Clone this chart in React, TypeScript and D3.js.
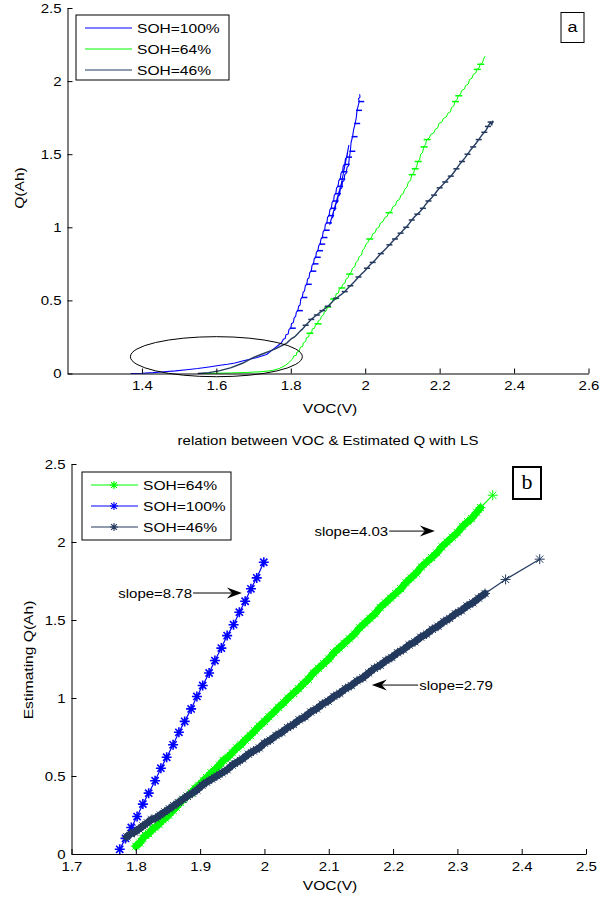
import React, { useRef, useEffect } from 'react';
import * as d3 from 'd3';

type Pt = [number, number]; // [VOC (V), Q (Ah)]

// ---- panel a: measured Q vs VOC --------------------------------------------
const topVocTicks = [1.4, 1.6, 1.8, 2, 2.2, 2.4, 2.6];
const qTicks = [0, 0.5, 1, 1.5, 2, 2.5];

const topSoh100: Pt[] = [
  [1.37, 0], [1.40, 0.002], [1.43, 0.006], [1.46, 0.012], [1.49, 0.018], [1.52, 0.026],
  [1.55, 0.034], [1.58, 0.045], [1.61, 0.056], [1.63, 0.063], [1.65, 0.072], [1.67, 0.085],
  [1.69, 0.097], [1.71, 0.11], [1.72, 0.118], [1.735, 0.13], [1.745, 0.15], [1.755, 0.17],
  [1.765, 0.19], [1.775, 0.21], [1.78, 0.235], [1.785, 0.24], [1.787, 0.265], [1.793, 0.27],
  [1.795, 0.30], [1.80, 0.31], [1.802, 0.34], [1.807, 0.35], [1.809, 0.38], [1.813, 0.39],
  [1.815, 0.42], [1.819, 0.43], [1.821, 0.46], [1.825, 0.47], [1.827, 0.51], [1.831, 0.52],
  [1.833, 0.555], [1.837, 0.565], [1.839, 0.60], [1.843, 0.61], [1.845, 0.645], [1.849, 0.655],
  [1.851, 0.69], [1.855, 0.70], [1.857, 0.74], [1.861, 0.75], [1.863, 0.785], [1.867, 0.795],
  [1.869, 0.83], [1.873, 0.84], [1.875, 0.875], [1.879, 0.885], [1.881, 0.92], [1.885, 0.93],
  [1.887, 0.97], [1.891, 0.98], [1.893, 1.02], [1.897, 1.03], [1.899, 1.07], [1.903, 1.08],
  [1.905, 1.12], [1.909, 1.13], [1.911, 1.17], [1.915, 1.18], [1.917, 1.22], [1.921, 1.23],
  [1.923, 1.27], [1.927, 1.28], [1.929, 1.32], [1.933, 1.33], [1.935, 1.37], [1.939, 1.38],
  [1.941, 1.42], [1.945, 1.43], [1.947, 1.47], [1.951, 1.48], [1.953, 1.52], [1.956, 1.56],
  [1.936, 1.30], [1.905, 1.02], [1.909, 1.06], [1.913, 1.07], [1.915, 1.11], [1.919, 1.12],
  [1.921, 1.16], [1.925, 1.17], [1.927, 1.21], [1.931, 1.22], [1.933, 1.26], [1.937, 1.27],
  [1.939, 1.31], [1.943, 1.32], [1.945, 1.36], [1.949, 1.37], [1.951, 1.41], [1.955, 1.42],
  [1.957, 1.47], [1.96, 1.52], [1.962, 1.58], [1.966, 1.62], [1.969, 1.67], [1.973, 1.71],
  [1.976, 1.75], [1.978, 1.80], [1.981, 1.83], [1.984, 1.86], [1.982, 1.88], [1.986, 1.89],
  [1.985, 1.91],
];
const topSoh64: Pt[] = [
  [1.56, 0], [1.60, 0.002], [1.64, 0.004], [1.68, 0.007], [1.72, 0.012], [1.75, 0.02],
  [1.77, 0.035], [1.785, 0.055], [1.795, 0.075], [1.805, 0.10], [1.808, 0.12], [1.815, 0.125],
  [1.816, 0.145], [1.822, 0.15], [1.826, 0.18], [1.832, 0.185], [1.834, 0.21], [1.84, 0.22],
  [1.842, 0.245], [1.848, 0.25], [1.85, 0.275], [1.856, 0.28], [1.858, 0.305], [1.864, 0.31],
  [1.866, 0.33], [1.872, 0.34], [1.874, 0.36], [1.88, 0.37], [1.882, 0.39], [1.888, 0.40],
  [1.89, 0.42], [1.896, 0.43], [1.898, 0.455], [1.904, 0.46], [1.906, 0.48], [1.912, 0.49],
  [1.914, 0.51], [1.92, 0.52], [1.922, 0.545], [1.928, 0.55], [1.93, 0.575], [1.936, 0.585],
  [1.94, 0.61], [1.946, 0.62], [1.948, 0.645], [1.954, 0.655], [1.957, 0.68], [1.962, 0.69],
  [1.966, 0.72], [1.972, 0.73], [1.975, 0.76], [1.98, 0.77], [1.984, 0.80], [1.99, 0.81],
  [1.993, 0.845], [1.998, 0.855], [2.002, 0.885], [2.007, 0.895], [2.011, 0.92], [2.017, 0.93],
  [2.02, 0.955], [2.027, 0.965], [2.03, 0.99], [2.037, 1.0], [2.041, 1.03], [2.048, 1.04],
  [2.052, 1.065], [2.059, 1.075], [2.063, 1.10], [2.07, 1.11], [2.074, 1.14], [2.081, 1.15],
  [2.085, 1.18], [2.092, 1.19], [2.096, 1.22], [2.102, 1.23], [2.106, 1.26], [2.112, 1.275],
  [2.116, 1.31], [2.122, 1.32], [2.125, 1.36], [2.13, 1.37], [2.133, 1.40], [2.138, 1.41],
  [2.141, 1.45], [2.146, 1.46], [2.149, 1.50], [2.154, 1.51], [2.157, 1.55], [2.162, 1.565],
  [2.165, 1.60], [2.172, 1.61], [2.176, 1.635], [2.184, 1.645], [2.188, 1.67], [2.195, 1.68],
  [2.198, 1.71], [2.206, 1.72], [2.21, 1.745], [2.218, 1.755], [2.222, 1.78], [2.229, 1.79],
  [2.232, 1.82], [2.238, 1.83], [2.241, 1.86], [2.247, 1.875], [2.25, 1.90], [2.256, 1.91],
  [2.259, 1.935], [2.266, 1.945], [2.27, 1.97], [2.277, 1.98], [2.28, 2.01], [2.287, 2.02],
  [2.29, 2.045], [2.297, 2.055], [2.3, 2.08], [2.306, 2.09], [2.309, 2.115], [2.315, 2.125],
  [2.318, 2.15], [2.322, 2.17],
];
const topSoh46: Pt[] = [
  [1.55, 0], [1.58, 0.006], [1.61, 0.02], [1.64, 0.04], [1.67, 0.07], [1.70, 0.11],
  [1.72, 0.13], [1.74, 0.15], [1.76, 0.17], [1.78, 0.195], [1.79, 0.21], [1.80, 0.235],
  [1.81, 0.25], [1.818, 0.27], [1.825, 0.29], [1.832, 0.305], [1.84, 0.33], [1.848, 0.35],
  [1.855, 0.37], [1.862, 0.385], [1.87, 0.40], [1.877, 0.415], [1.885, 0.43], [1.892, 0.445],
  [1.90, 0.46], [1.908, 0.48], [1.915, 0.50], [1.922, 0.515], [1.93, 0.53], [1.938, 0.545],
  [1.945, 0.56], [1.952, 0.58], [1.96, 0.60], [1.968, 0.62], [1.975, 0.64], [1.982, 0.66],
  [1.99, 0.68], [1.998, 0.70], [2.005, 0.72], [2.012, 0.74], [2.02, 0.76], [2.028, 0.78],
  [2.035, 0.80], [2.042, 0.82], [2.05, 0.84], [2.058, 0.86], [2.065, 0.88], [2.072, 0.90],
  [2.08, 0.92], [2.088, 0.94], [2.095, 0.96], [2.102, 0.98], [2.11, 1.00], [2.118, 1.025],
  [2.125, 1.05], [2.132, 1.07], [2.14, 1.09], [2.148, 1.11], [2.155, 1.13], [2.162, 1.155],
  [2.17, 1.18], [2.178, 1.20], [2.185, 1.22], [2.192, 1.245], [2.20, 1.27], [2.208, 1.29],
  [2.215, 1.31], [2.222, 1.33], [2.23, 1.35], [2.238, 1.375], [2.245, 1.40], [2.252, 1.425],
  [2.26, 1.45], [2.268, 1.475], [2.275, 1.50], [2.282, 1.525], [2.29, 1.55], [2.298, 1.575],
  [2.305, 1.60], [2.312, 1.625], [2.32, 1.65], [2.326, 1.67], [2.33, 1.69], [2.337, 1.72],
  [2.34, 1.70], [2.343, 1.73],
];
// short horizontal noise spikes seen along each trace
const spikes100: Pt[] = [
  [1.80, 0.31], [1.819, 0.43], [1.831, 0.52], [1.843, 0.61], [1.855, 0.70], [1.861, 0.75],
  [1.867, 0.795], [1.873, 0.84], [1.879, 0.885], [1.885, 0.93], [1.891, 0.98], [1.897, 1.03],
  [1.903, 1.08], [1.909, 1.13], [1.915, 1.18], [1.921, 1.23], [1.927, 1.28], [1.933, 1.33],
  [1.939, 1.38], [1.945, 1.43], [1.951, 1.48], [1.96, 1.52], [1.966, 1.62], [1.973, 1.71],
  [1.978, 1.80], [1.984, 1.86],
];
const spikes64: Pt[] = [
  [1.85, 0.275], [1.872, 0.34], [1.898, 0.455], [1.914, 0.51], [1.936, 0.585], [1.957, 0.68],
  [2.011, 0.92], [2.063, 1.10], [2.125, 1.36], [2.133, 1.40], [2.141, 1.45], [2.157, 1.55],
  [2.165, 1.60], [2.241, 1.86], [2.25, 1.90], [2.30, 2.08], [2.309, 2.115],
];
const spikes46: Pt[] = [
  [1.84, 0.33], [1.855, 0.37], [1.87, 0.40], [1.885, 0.43], [1.90, 0.46], [1.922, 0.515],
  [1.945, 0.56], [1.96, 0.60], [1.982, 0.66], [2.005, 0.72], [2.02, 0.76], [2.042, 0.82],
  [2.065, 0.88], [2.08, 0.92], [2.095, 0.96], [2.11, 1.00], [2.125, 1.05], [2.14, 1.09],
  [2.155, 1.13], [2.17, 1.18], [2.185, 1.22], [2.20, 1.27], [2.215, 1.31], [2.23, 1.35],
  [2.245, 1.40], [2.26, 1.45], [2.275, 1.50], [2.29, 1.55], [2.305, 1.60], [2.32, 1.65],
  [2.33, 1.69], [2.337, 1.72],
];
// circled region: centre VOC, centre Q, half-width (V), half-height (Ah)
const ellipseA = [1.6, 0.115, 0.231, 0.137];

// ---- panel b: LS estimate ---------------------------------------------------
const botVocTicks = [1.7, 1.8, 1.9, 2, 2.1, 2.2, 2.3, 2.4, 2.5];

const estSoh64: Pt[] = [
  [1.800, 0.05], [1.806, 0.07], [1.811, 0.10], [1.815, 0.12], [1.820, 0.13], [1.826, 0.16],
  [1.830, 0.17], [1.836, 0.19], [1.842, 0.22], [1.846, 0.23], [1.851, 0.25], [1.858, 0.28],
  [1.863, 0.30], [1.869, 0.33], [1.874, 0.35], [1.880, 0.37], [1.886, 0.39], [1.892, 0.42],
  [1.898, 0.44], [1.905, 0.47], [1.910, 0.49], [1.917, 0.52], [1.923, 0.54], [1.930, 0.57],
  [1.936, 0.60], [1.943, 0.62], [1.950, 0.65], [1.957, 0.68], [1.963, 0.70], [1.970, 0.73],
  [1.978, 0.76], [1.985, 0.79], [1.992, 0.82], [2.000, 0.85], [2.007, 0.88], [2.015, 0.91],
  [2.022, 0.94], [2.030, 0.97], [2.037, 1.00], [2.045, 1.03], [2.053, 1.06], [2.060, 1.09],
  [2.068, 1.12], [2.076, 1.16], [2.084, 1.19], [2.092, 1.22], [2.100, 1.25], [2.108, 1.29],
  [2.116, 1.32], [2.124, 1.35], [2.132, 1.38], [2.140, 1.41], [2.148, 1.45], [2.156, 1.48],
  [2.164, 1.51], [2.172, 1.54], [2.180, 1.58], [2.188, 1.61], [2.196, 1.64], [2.204, 1.67],
  [2.212, 1.70], [2.220, 1.74], [2.228, 1.77], [2.236, 1.80], [2.244, 1.84], [2.252, 1.87],
  [2.260, 1.90], [2.268, 1.93], [2.276, 1.97], [2.284, 2.00], [2.292, 2.03], [2.300, 2.06],
  [2.308, 2.10], [2.316, 2.13], [2.322, 2.15], [2.330, 2.19], [2.336, 2.22],
];
const estSoh64Tail: Pt[] = [[2.355, 2.30]];
const estSoh100: Pt[] = [
  [1.775, 0.03], [1.784, 0.10], [1.793, 0.17], [1.802, 0.24], [1.811, 0.32], [1.820, 0.39],
  [1.830, 0.47], [1.839, 0.55], [1.848, 0.62], [1.858, 0.70], [1.867, 0.78], [1.876, 0.85],
  [1.886, 0.93], [1.895, 1.01], [1.904, 1.08], [1.914, 1.16], [1.923, 1.24], [1.933, 1.32],
  [1.942, 1.40], [1.952, 1.47], [1.961, 1.55], [1.970, 1.62], [1.979, 1.70], [1.988, 1.77],
  [1.999, 1.87],
];
const estSoh46: Pt[] = [
  [1.786, 0.11], [1.792, 0.13], [1.798, 0.14], [1.805, 0.16], [1.811, 0.18], [1.818, 0.20],
  [1.824, 0.22], [1.831, 0.23], [1.838, 0.25], [1.845, 0.27], [1.852, 0.29], [1.859, 0.31],
  [1.866, 0.33], [1.873, 0.35], [1.880, 0.37], [1.888, 0.39], [1.895, 0.41], [1.903, 0.44],
  [1.910, 0.46], [1.918, 0.48], [1.926, 0.50], [1.934, 0.52], [1.942, 0.54], [1.950, 0.57],
  [1.958, 0.59], [1.966, 0.61], [1.975, 0.64], [1.983, 0.66], [1.992, 0.68], [2.000, 0.71],
  [2.009, 0.73], [2.018, 0.76], [2.027, 0.78], [2.036, 0.81], [2.045, 0.83], [2.054, 0.86],
  [2.063, 0.88], [2.072, 0.91], [2.081, 0.93], [2.090, 0.96], [2.099, 0.98], [2.108, 1.01],
  [2.117, 1.03], [2.126, 1.06], [2.135, 1.08], [2.144, 1.11], [2.153, 1.13], [2.162, 1.16],
  [2.171, 1.19], [2.180, 1.21], [2.189, 1.24], [2.198, 1.26], [2.207, 1.29], [2.216, 1.31],
  [2.225, 1.34], [2.234, 1.36], [2.243, 1.39], [2.252, 1.41], [2.261, 1.44], [2.270, 1.46],
  [2.279, 1.49], [2.288, 1.51], [2.297, 1.54], [2.306, 1.56], [2.315, 1.59], [2.324, 1.61],
  [2.333, 1.64], [2.343, 1.67],
];
const estSoh46Tail: Pt[] = [[2.375, 1.76], [2.428, 1.89]];
// slope call-outs: label, VOC at text side, VOC at arrow tip, Q level
const slopeNotes: { label: string; textV: number; tipV: number; q: number }[] = [
  { label: 'slope=8.78', textV: 1.889, tipV: 1.965, q: 1.673 },
  { label: 'slope=4.03', textV: 2.194, tipV: 2.265, q: 2.07 },
  { label: 'slope=2.79', textV: 2.239, tipV: 2.167, q: 1.083 },
];

const BLUE = '#0000ff';
const GREEN = '#00ff00';
const NAVY = '#233a5e';
const FONT = '"Liberation Sans", Arial, Helvetica, sans-serif';
const SX = 1.2; // the original figure is stretched sideways

type G = d3.Selection<SVGGElement, unknown, null, undefined>;

const starPath = (r: number) => {
  const d = r * 0.72;
  return `M${-r},0H${r}M0,${-r}V${r}M${-d},${-d}L${d},${d}M${-d},${d}L${d},${-d}`;
};

const label = (g: G, x: number, y: number, s: string, size = 12.5, anchor = 'start', rot = 0) =>
  g.append('text')
    .attr('transform', `translate(${x},${y}) rotate(${rot}) scale(${SX},1)`)
    .attr('text-anchor', anchor).attr('font-size', size).attr('font-family', FONT)
    .attr('fill', '#000').text(s);

function axes(g: G, x: d3.ScaleLinear<number, number>, y: d3.ScaleLinear<number, number>,
  xTicks: number[], xPad: number) {
  const fmt = d3.format('~g');
  const bx = g.append('g').attr('transform', `translate(0,${y.range()[0]})`)
    .call(d3.axisBottom(x).tickValues(xTicks).tickFormat(d => fmt(d as number))
      .tickSizeInner(-5).tickSizeOuter(0).tickPadding(xPad));
  const ly = g.append('g').attr('transform', `translate(${x.range()[0]},0)`)
    .call(d3.axisLeft(y).tickValues(qTicks).tickFormat(d => fmt(d as number))
      .tickSizeInner(-5).tickSizeOuter(0).tickPadding(5));
  [bx, ly].forEach(a => {
    a.selectAll('.domain, line').attr('stroke', '#000');
    a.selectAll('text').attr('font-size', 12.5).attr('font-family', FONT).attr('fill', '#000')
      .attr('transform', `scale(${SX},1)`);
  });
}

function legend(g: G, x0: number, y0: number, w: number, h: number,
  items: { name: string; color: string; star: boolean; width: number }[]) {
  g.append('rect').attr('x', x0).attr('y', y0).attr('width', w).attr('height', h)
    .attr('fill', '#fff').attr('stroke', '#000');
  items.forEach((it, i) => {
    const yy = y0 + 13 + i * 21;
    g.append('line').attr('x1', x0 + 9).attr('x2', x0 + 56).attr('y1', yy).attr('y2', yy)
      .attr('stroke', it.color).attr('stroke-width', it.width);
    if (it.star) g.append('path').attr('d', starPath(4)).attr('transform', `translate(${x0 + 32},${yy})`)
      .attr('fill', 'none').attr('stroke', it.color).attr('stroke-width', 1.1);
    label(g, x0 + 61, yy + 5, it.name, 13);
  });
}

function drawTop(g: G) {
  const x = d3.scaleLinear().domain([1.2, 2.6]).range([67.5, 588.5]);
  const y = d3.scaleLinear().domain([0, 2.5]).range([373.5, 8]);
  const line = d3.line<Pt>().x(d => x(d[0])).y(d => y(d[1]));

  // data, spikes, colour, line width, spike extent left / right (px)
  const series: [Pt[], Pt[], string, number, number, number][] = [
    [topSoh100, spikes100, BLUE, 1.1, 1, 5],
    [topSoh64, spikes64, GREEN, 1, 3, 4],
    [topSoh46, spikes46, NAVY, 1.4, 3, 3],
  ];
  series.forEach(([pts, sp, c, w, l, r]) => {
    g.append('path').attr('d', line(pts)).attr('fill', 'none').attr('stroke', c)
      .attr('stroke-width', w).attr('stroke-linejoin', 'round');
    g.selectAll(null).data(sp).enter().append('line')
      .attr('x1', d => x(d[0]) - l).attr('x2', d => x(d[0]) + r)
      .attr('y1', d => y(d[1])).attr('y2', d => y(d[1]))
      .attr('stroke', c).attr('stroke-width', 1.5);
  });

  const [ev, eq, erx, ery] = ellipseA;
  g.append('ellipse').attr('cx', x(ev)).attr('cy', y(eq))
    .attr('rx', x(ev + erx) - x(ev)).attr('ry', y(eq) - y(eq + ery))
    .attr('fill', 'none').attr('stroke', '#000').attr('stroke-width', 1);

  axes(g, x, y, topVocTicks, 8);
  label(g, 330, 413, 'VOC(V)', 13, 'middle');
  label(g, 24, 188, 'Q(Ah)', 13, 'middle', -90);

  legend(g, 76, 15, 153, 65, [
    { name: 'SOH=100%', color: BLUE, star: false, width: 1.2 },
    { name: 'SOH=64%', color: GREEN, star: false, width: 1.2 },
    { name: 'SOH=46%', color: NAVY, star: false, width: 1 },
  ]);

  g.append('rect').attr('x', 561).attr('y', 12.5).attr('width', 23).attr('height', 30)
    .attr('fill', '#fff').attr('stroke', '#000');
  label(g, 572.5, 32, 'a', 15, 'middle');
}

function drawBottom(g: G) {
  const x = d3.scaleLinear().domain([1.7, 2.5]).range([71.5, 586]);
  const y = d3.scaleLinear().domain([0, 2.5]).range([854, 464]);
  const line = d3.line<Pt>().x(d => x(d[0])).y(d => y(d[1]));

  // dense part, sparse tail, colour, marker radius, marker stroke, band width
  const series: [Pt[], Pt[], string, number, number, number][] = [
    [estSoh64, estSoh64Tail, GREEN, 5, 1, 7],
    [estSoh100, [], BLUE, 5, 1.6, 0],
    [estSoh46, estSoh46Tail, NAVY, 5, 1, 7],
  ];
  series.forEach(([pts, tail, c, r, w, band]) => {
    const all = pts.concat(tail);
    if (band) g.append('path').attr('d', line(pts)).attr('fill', 'none').attr('stroke', c)
      .attr('stroke-width', band).attr('stroke-linecap', 'round');
    g.append('path').attr('d', line(all)).attr('fill', 'none').attr('stroke', c).attr('stroke-width', 1.2);
    g.selectAll(null).data(all).enter().append('path')
      .attr('d', starPath(r)).attr('transform', d => `translate(${x(d[0])},${y(d[1])})`)
      .attr('fill', 'none').attr('stroke', c).attr('stroke-width', w);
  });

  axes(g, x, y, botVocTicks, 8);
  label(g, 328, 445, 'relation between VOC & Estimated Q with LS', 12.5, 'middle');
  label(g, 330, 890, 'VOC(V)', 13, 'middle');
  label(g, 33, 660, 'Estimating Q(Ah)', 13, 'middle', -90);

  // slope call-outs with MATLAB style arrowheads
  slopeNotes.forEach(n => {
    const xt = x(n.textV), xa = x(n.tipV), yy = y(n.q);
    const dir = xa > xt ? 1 : -1;
    g.append('line').attr('x1', xt).attr('x2', xa - dir * 8).attr('y1', yy).attr('y2', yy)
      .attr('stroke', '#000').attr('stroke-width', 1);
    g.append('path')
      .attr('d', `M${xa},${yy}L${xa - dir * 15},${yy - 5.5}L${xa - dir * 10},${yy}L${xa - dir * 15},${yy + 5.5}Z`)
      .attr('fill', '#000');
    label(g, xt + (dir > 0 ? -1 : 1), yy + 4.5, n.label, 12.5, dir > 0 ? 'end' : 'start');
  });

  legend(g, 82, 472, 149, 68, [
    { name: 'SOH=64%', color: GREEN, star: true, width: 1.2 },
    { name: 'SOH=100%', color: BLUE, star: true, width: 1.2 },
    { name: 'SOH=46%', color: NAVY, star: true, width: 1 },
  ]);

  g.append('rect').attr('x', 513).attr('y', 467).attr('width', 28).attr('height', 32)
    .attr('fill', '#fff').attr('stroke', '#000').attr('stroke-width', 2);
  g.append('text').attr('x', 527).attr('y', 489).attr('text-anchor', 'middle')
    .attr('font-size', 22).attr('font-family', '"Liberation Serif", "Times New Roman", serif').text('b');
}

export default function App() {
  const svgRef = useRef<SVGSVGElement>(null);

  useEffect(() => {
    if (!svgRef.current) return;
    const svg = d3.select(svgRef.current);
    svg.selectAll('*').remove();
    drawTop(svg.append('g') as unknown as G);
    drawBottom(svg.append('g') as unknown as G);
  }, []);

  return (
    <svg ref={svgRef} width={614} height={897}
      style={{ position: 'absolute', left: 0, top: 0, background: '#fff' }} />
  );
}
